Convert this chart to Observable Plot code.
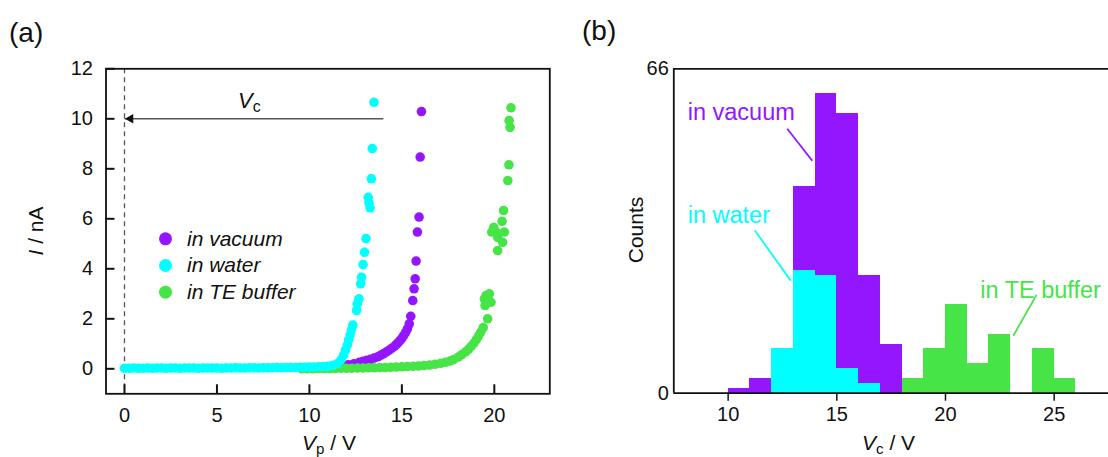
<!DOCTYPE html>
<html>
<head>
<meta charset="utf-8">
<script src="https://cdn.jsdelivr.net/npm/d3@7"></script>
<script src="https://cdn.jsdelivr.net/npm/@observablehq/plot@0.6"></script>
<style>
  html, body { margin: 0; padding: 0; background: #fff; }
  #wrap { position: relative; width: 1108px; height: 457px; overflow: hidden; font-family: "Liberation Sans", Arial, sans-serif; color: #111; }
  .abs { position: absolute; white-space: nowrap; line-height: 1; }
  .panel { position: absolute; top: 0; }
  sub { font-size: 0.72em; vertical-align: -0.25em; line-height: 0; }
</style>
</head>
<body>
<div id="wrap"></div>
<script>
// ---------- Panel (a): I–Vp curves ----------
const vacuumX = [10.0,10.3,10.6,10.9,11.2,11.5,11.8,12.1,12.4,12.7,12.9,13.1,13.3,13.5,13.7,13.85,14.0,14.15,14.3,14.45,14.6,14.7,14.8,14.9,15.0,15.1,15.2,15.3,15.4,15.48,15.59,15.66,15.72,15.77,15.84,15.93,15.99,16.06];
const vacuumY = [0.02,0.03,0.04,0.05,0.07,0.09,0.12,0.16,0.2,0.26,0.3,0.34,0.38,0.43,0.48,0.54,0.6,0.67,0.74,0.82,0.9,0.97,1.05,1.13,1.22,1.33,1.45,1.6,1.8,2.1,2.73,3.2,3.6,4.31,5.47,6.07,8.47,10.29];

const waterX = [0,0.25,0.5,0.75,1,1.25,1.5,1.75,2,2.25,2.5,2.75,3,3.25,3.5,3.75,4,4.25,4.5,4.75,5,5.25,5.5,5.75,6,6.25,6.5,6.75,7,7.25,7.5,7.75,8,8.25,8.5,8.75,9,9.25,9.5,9.75,10,10.25,10.5,10.75,11.0,11.25,11.5,11.7,11.85,11.95,12.05,12.12,12.2,12.27,12.35,12.55,12.59,12.68,12.77,12.82,12.9,12.98,13.06,13.18,13.22,13.28,13.35,13.4,13.49];
const waterY = [0.02,0.02,0.03,0.02,0.02,0.03,0.02,0.03,0.03,0.02,0.03,0.03,0.02,0.03,0.03,0.03,0.02,0.03,0.03,0.03,0.03,0.02,0.03,0.03,0.04,0.03,0.03,0.04,0.04,0.03,0.04,0.04,0.04,0.05,0.04,0.05,0.05,0.05,0.06,0.06,0.07,0.07,0.08,0.09,0.1,0.13,0.2,0.35,0.55,0.75,0.95,1.15,1.35,1.55,1.75,2.33,2.6,2.8,3.4,3.66,4.17,4.66,5.21,6.86,6.64,6.44,7.6,8.81,10.66];

const teX = [9.6,9.9,10.2,10.5,10.8,11.1,11.4,11.7,12.0,12.3,12.6,12.9,13.2,13.5,13.8,14.1,14.4,14.7,15.0,15.3,15.6,15.9,16.2,16.5,16.8,17.1,17.35,17.6,17.8,18.05,18.25,18.45,18.6,18.75,18.9,19.03,19.15,19.27,19.4,19.64,19.5,19.82,19.46,19.55,19.73,20.18,20.45,20.18,19.86,20.09,20.54,19.97,20.42,20.5,20.73,20.79,20.85,20.8,20.9];
const teY = [0.0,0.0,0.0,0.01,0.01,0.01,0.01,0.02,0.02,0.02,0.03,0.03,0.04,0.04,0.05,0.05,0.06,0.07,0.08,0.09,0.1,0.11,0.13,0.15,0.18,0.22,0.26,0.31,0.37,0.47,0.57,0.68,0.78,0.9,1.03,1.17,1.32,1.47,1.65,2.0,2.53,2.66,2.8,2.93,3.0,4.73,5.06,5.26,5.47,5.47,5.47,5.66,5.9,6.33,7.53,8.16,9.66,9.93,10.44];

const seriesNames = ["in vacuum", "in water", "in TE buffer"];
const seriesColors = ["#9416ff", "#00ffff", "#47e447"];

const xTicksA = [0, 5, 10, 15, 20];
const yTicksA = [0, 2, 4, 6, 8, 10, 12];
const xDomainA = [-1, 23];
const yDomainA = [-1, 12];
const vcLine = {from: 14, to: 0, level: 10};

// ---------- Panel (b): histogram of Vc ----------
const binStarts = [10, 11, 12, 13, 14, 15, 16, 17, 18, 19, 20, 21, 22, 23, 24, 25];
const vacuumCounts = [1, 3, 8, 42, 61, 57, 24, 10, 0, 0, 0, 0, 0, 0, 0, 0];
const waterCounts  = [0, 0, 9, 25, 24, 5, 2, 0, 0, 0, 0, 0, 0, 0, 0, 0];
const teCounts     = [0, 0, 0, 0, 0, 0, 0, 0, 3, 9, 18, 6, 12, 0, 9, 3];
const xTicksB = [10, 15, 20, 25];
const yTicksB = [0, 66];
const xDomainB = [7.5, 27.5];
const yDomainB = [0, 66];

// annotation labels and leader lines (data space of panel b)
const annoText  = ["in vacuum", "in water", "in TE buffer"];
const annoX     = [8.14, 8.14, 21.6];
const annoY     = [57.1, 36.2, 20.9];
const leaderX1  = [12.72, 11.23, 24.19];
const leaderY1  = [53.8, 33.1, 20.0];
const leaderX2  = [13.87, 12.88, 23.12];
const leaderY2  = [47.3, 22.9, 11.7];

// ---------- build ----------
const toPts = (xs, ys) => xs.map((x, i) => ({x, y: ys[i]}));
const vacuumPts = toPts(vacuumX, vacuumY);
const waterPts = toPts(waterX, waterY);
const tePts = toPts(teX, teY);

const font = {fontFamily: "'Liberation Sans', Arial, sans-serif", fontSize: "20px", background: "transparent", color: "#111", overflow: "visible"};

const legendMarks = seriesNames.flatMap((name, i) => [
  Plot.dot([name], {x: null, y: null, frameAnchor: "top-left", dx: 59.5, dy: 170 + i * 26.7, r: 6.5, fill: seriesColors[i]}),
  Plot.text([name], {x: null, y: null, frameAnchor: "top-left", dx: 81, dy: 170 + i * 26.7, text: d => d, textAnchor: "start", lineAnchor: "middle", fontSize: 21, fontStyle: "italic", fill: "#111"})
]);

const A = {width: 560, height: 457, ml: 105.5, mr: 10.7, mt: 68.3, mb: 63.7};
const innerWA = A.width - A.ml - A.mr;
const tickLen = 9;

const plotA = Plot.plot({
  width: A.width, height: A.height,
  marginLeft: A.ml, marginRight: A.mr, marginTop: A.mt, marginBottom: A.mb,
  style: font,
  x: {domain: xDomainA},
  y: {domain: yDomainA},
  marks: [
    Plot.ruleX([vcLine.to], {stroke: "#555", strokeWidth: 1.3, strokeDasharray: "5,4"}),
    Plot.link([vcLine], {x1: "from", x2: d => d.to, y1: "level", y2: "level", stroke: "#555", strokeWidth: 1.5}),
    Plot.dot([vcLine], {x: "to", y: "level", symbol: "triangle2", rotate: -90, r: 4.6, fill: "#111", dx: 6}),
    Plot.dot(vacuumPts, {x: "x", y: "y", r: 4.8, fill: seriesColors[0]}),
    Plot.dot(tePts, {x: "x", y: "y", r: 4.8, fill: seriesColors[2]}),
    Plot.dot(waterPts, {x: "x", y: "y", r: 4.8, fill: seriesColors[1]}),
    ...legendMarks,
    Plot.axisX(xTicksA, {tickSize: 0, tickPadding: 14, fontSize: 20, label: null}),
    Plot.axisY(yTicksA, {tickSize: 0, tickPadding: 13, fontSize: 20, label: null}),
    // inward tick marks
    Plot.axisX(xTicksA, {tickSize: tickLen, dy: -tickLen, tickFormat: () => "", stroke: "#111", strokeWidth: 2, label: null}),
    Plot.ruleY(yTicksA, {insetRight: innerWA - tickLen, stroke: "#111", strokeWidth: 2}),
    Plot.frame({stroke: "#111", strokeWidth: 1.8})
  ]
});

const histRows = (counts, series) => binStarts.map((b, i) => ({x1: b, x2: b + 1, count: counts[i], series})).filter(d => d.count > 0);
const annoRows = annoText.map((t, i) => ({t, x: annoX[i], y: annoY[i], x1: leaderX1[i], y1: leaderY1[i], x2: leaderX2[i], y2: leaderY2[i], c: seriesColors[i]}));

const plotB = Plot.plot({
  width: 548, height: 457,
  marginLeft: 113.3, marginRight: 0, marginTop: 68.3, marginBottom: 64.3,
  style: font,
  x: {domain: xDomainB},
  y: {domain: yDomainB},
  marks: [
    Plot.rectY(histRows(vacuumCounts, 0), {x1: "x1", x2: "x2", y: "count", fill: seriesColors[0], shapeRendering: "crispEdges"}),
    Plot.rectY(histRows(waterCounts, 1), {x1: "x1", x2: "x2", y: "count", fill: seriesColors[1], shapeRendering: "crispEdges"}),
    Plot.rectY(histRows(teCounts, 2), {x1: "x1", x2: "x2", y: "count", fill: seriesColors[2], shapeRendering: "crispEdges"}),
    Plot.link(annoRows, {x1: "x1", y1: "y1", x2: "x2", y2: "y2", stroke: "c", strokeWidth: 1.8}),
    Plot.text(annoRows, {x: "x", y: "y", text: "t", fill: "c", textAnchor: "start", lineAnchor: "middle", fontSize: 23.5}),
    Plot.ruleY(yDomainB, {stroke: "#111", strokeWidth: 1.8}),
    Plot.ruleX([xDomainB[0]], {stroke: "#111", strokeWidth: 1.8}),
    Plot.axisX(xTicksB, {tickSize: 8, tickPadding: 6, stroke: "#111", strokeWidth: 1.5, fontSize: 20, label: null}),
    Plot.axisY(yTicksB, {tickSize: 0, tickPadding: 5, fontSize: 20, label: null})
  ]
});

const wrap = document.getElementById("wrap");
const pa = document.createElement("div"); pa.className = "panel"; pa.style.left = "0px"; pa.appendChild(plotA); wrap.appendChild(pa);
const pb = document.createElement("div"); pb.className = "panel"; pb.style.left = "560px"; pb.appendChild(plotB); wrap.appendChild(pb);

function label(html, left, top, size, extra) {
  const d = document.createElement("div");
  d.className = "abs";
  d.innerHTML = html;
  d.style.left = left + "px"; d.style.top = top + "px"; d.style.fontSize = size + "px";
  if (extra) Object.assign(d.style, extra);
  wrap.appendChild(d);
  return d;
}
label("(a)", 9, 19, 28);
label("(b)", 582, 17, 28);
label("<i>V</i><sub>c</sub>", 238, 90, 22);
label("<i>V</i><sub>p</sub> / V", 302, 432, 21);
label("<i>V</i><sub>c</sub> / V", 862, 432, 21);
label("<i>I</i> / nA", 35, 231, 21, {transform: "translate(-50%,-50%) rotate(-90deg)"});
label("Counts", 635, 230, 21, {transform: "translate(-50%,-50%) rotate(-90deg)"});
</script>
</body>
</html>
